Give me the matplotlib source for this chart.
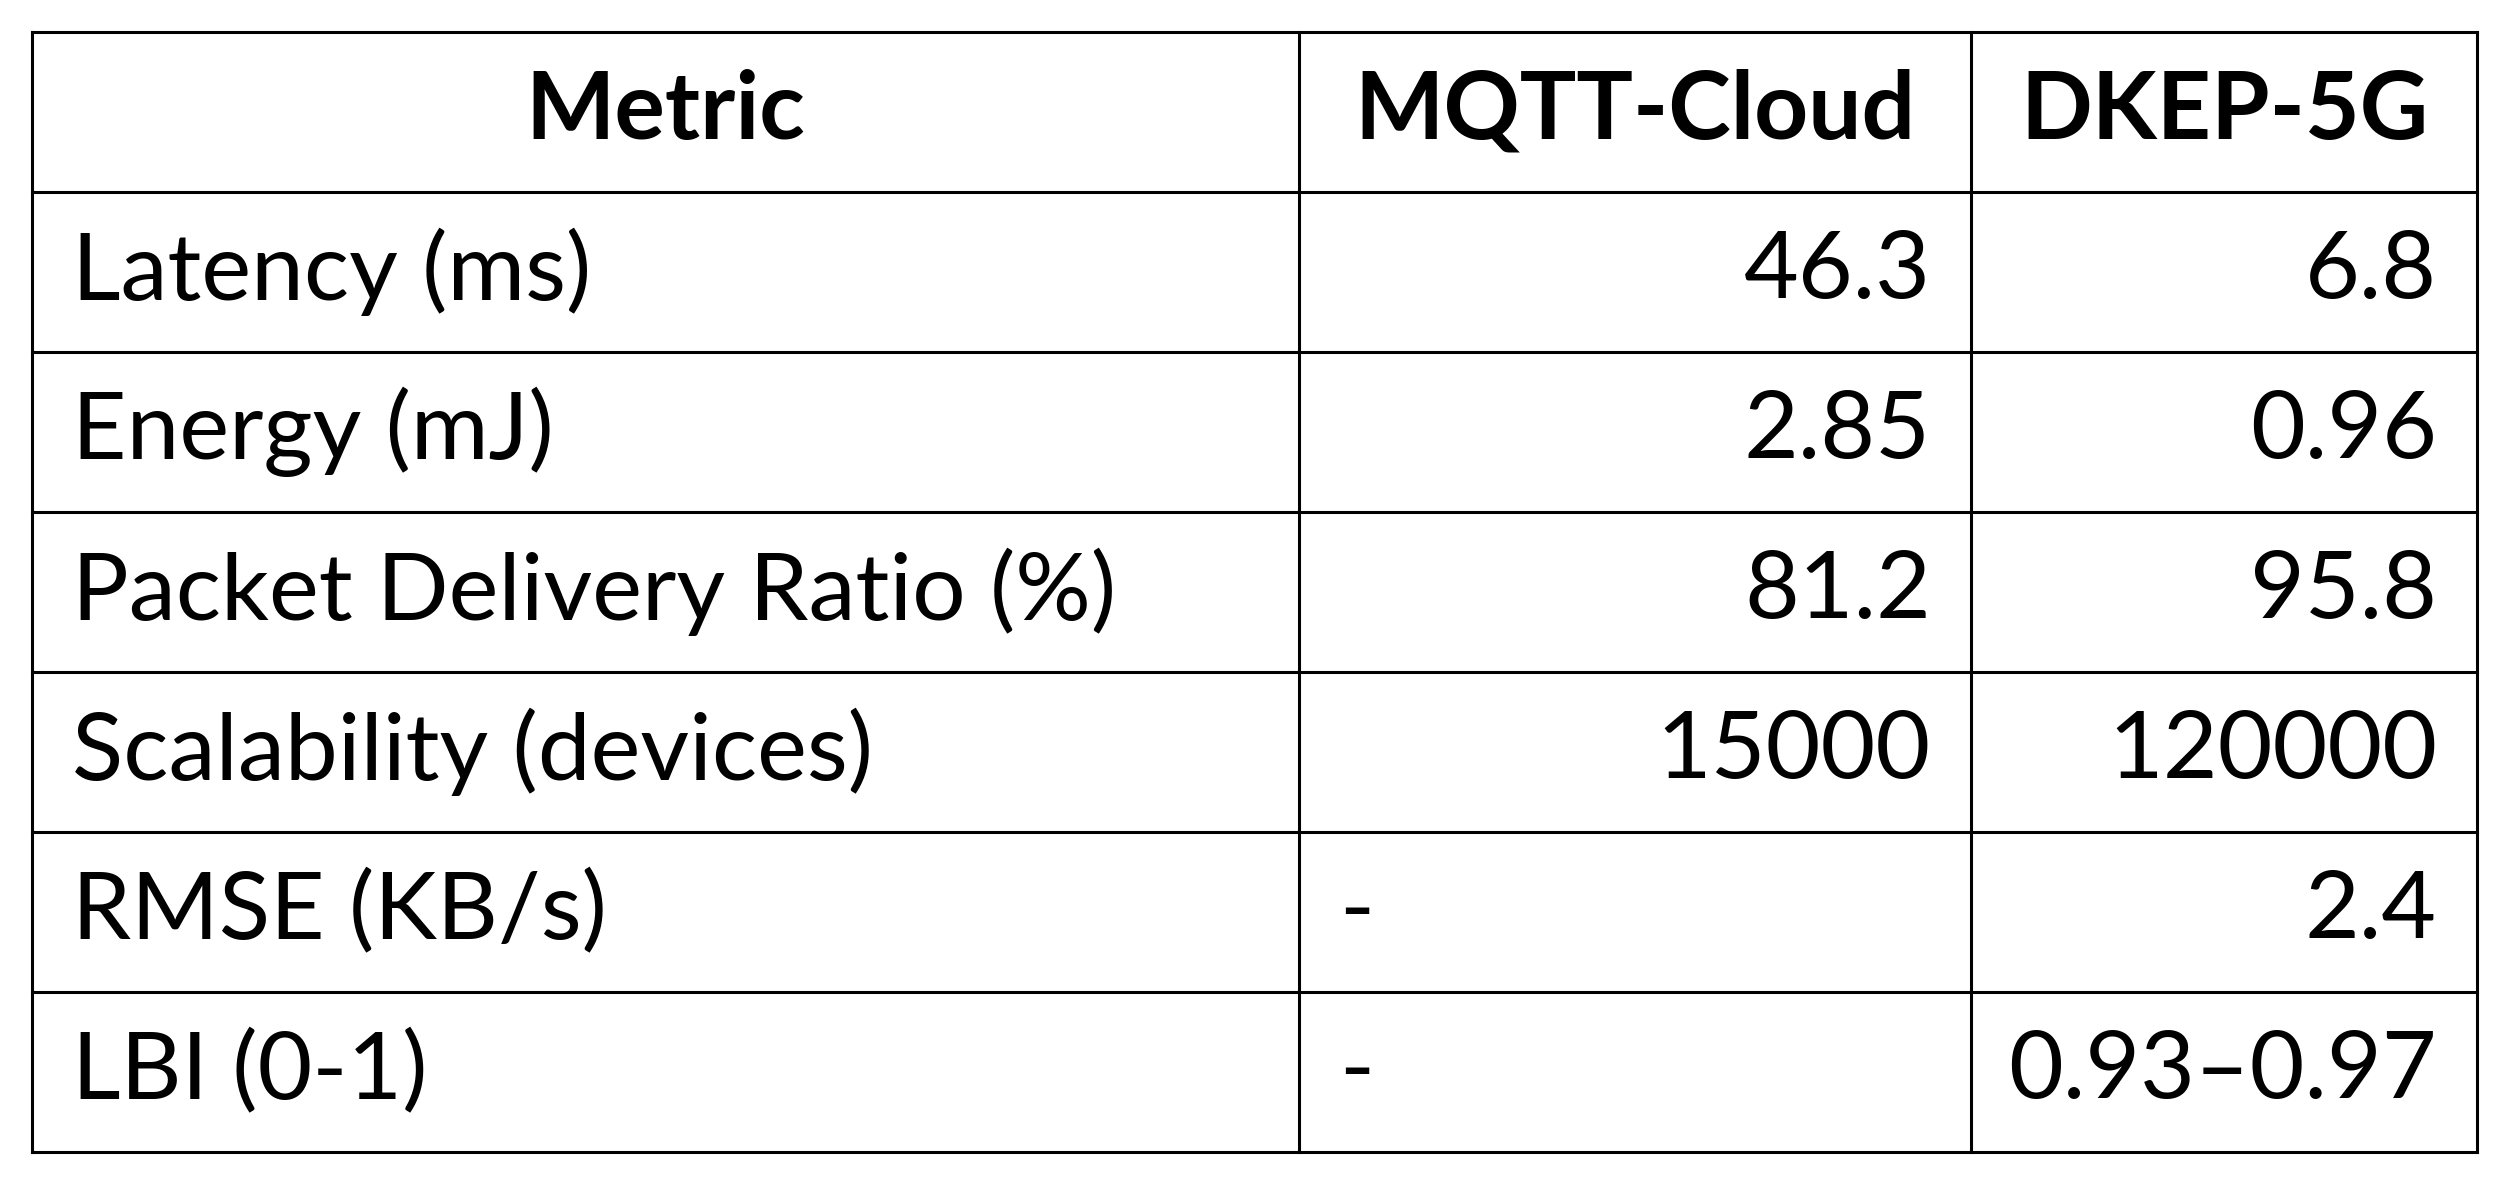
import matplotlib
matplotlib.use("Agg")
import matplotlib.pyplot as plt

headers = ["Metric", "MQTT-Cloud", "DKEP-5G"]
metrics = ["Latency (ms)", "Energy (mJ)", "Packet Delivery Ratio (%)",
           "Scalability (devices)", "RMSE (KB/s)", "LBI (0-1)"]
mqtt = ["46.3", "2.85", "81.2", "15000", "-", "-"]
dkep = ["6.8", "0.96", "95.8", "120000", "2.4", "0.93\u20130.97"]

W, H = 2509, 1182
fig = plt.figure(figsize=(W/100, H/100), dpi=100)
ax = fig.add_axes([0, 0, 1, 1])
ax.set_xlim(0, W); ax.set_ylim(H, 0); ax.axis("off")

left, right, top, bottom = 32, 2477, 32, 1152
cols = [left, 1299, 1971, right]
nrows = len(metrics) + 1
rh = (bottom - top) / nrows
lw = 2.2
for x in cols:
    ax.plot([x, x], [top, bottom], color="black", lw=lw)
for i in range(nrows + 1):
    y = top + i * rh
    ax.plot([left, right], [y, y], color="black", lw=lw)

fam = ["Lato", "DejaVu Sans"]
fs = 68
pad = 40
for j, h in enumerate(headers):
    ax.text((cols[j] + cols[j+1]) / 2, top + rh/2, h, ha="center", va="center",
            fontsize=fs, fontweight="bold", family=fam)
for i in range(len(metrics)):
    yc = top + (i + 1.5) * rh
    ax.text(cols[0] + pad, yc, metrics[i], ha="left", va="center", fontsize=fs, family=fam)
    for j, v in ((1, mqtt[i]), (2, dkep[i])):
        if v == "-":
            ax.text(cols[j] + pad, yc, v, ha="left", va="center", fontsize=fs, family=fam)
        else:
            ax.text(cols[j+1] - pad, yc, v, ha="right", va="center", fontsize=fs, family=fam)

fig.savefig("out.png", dpi=100)
